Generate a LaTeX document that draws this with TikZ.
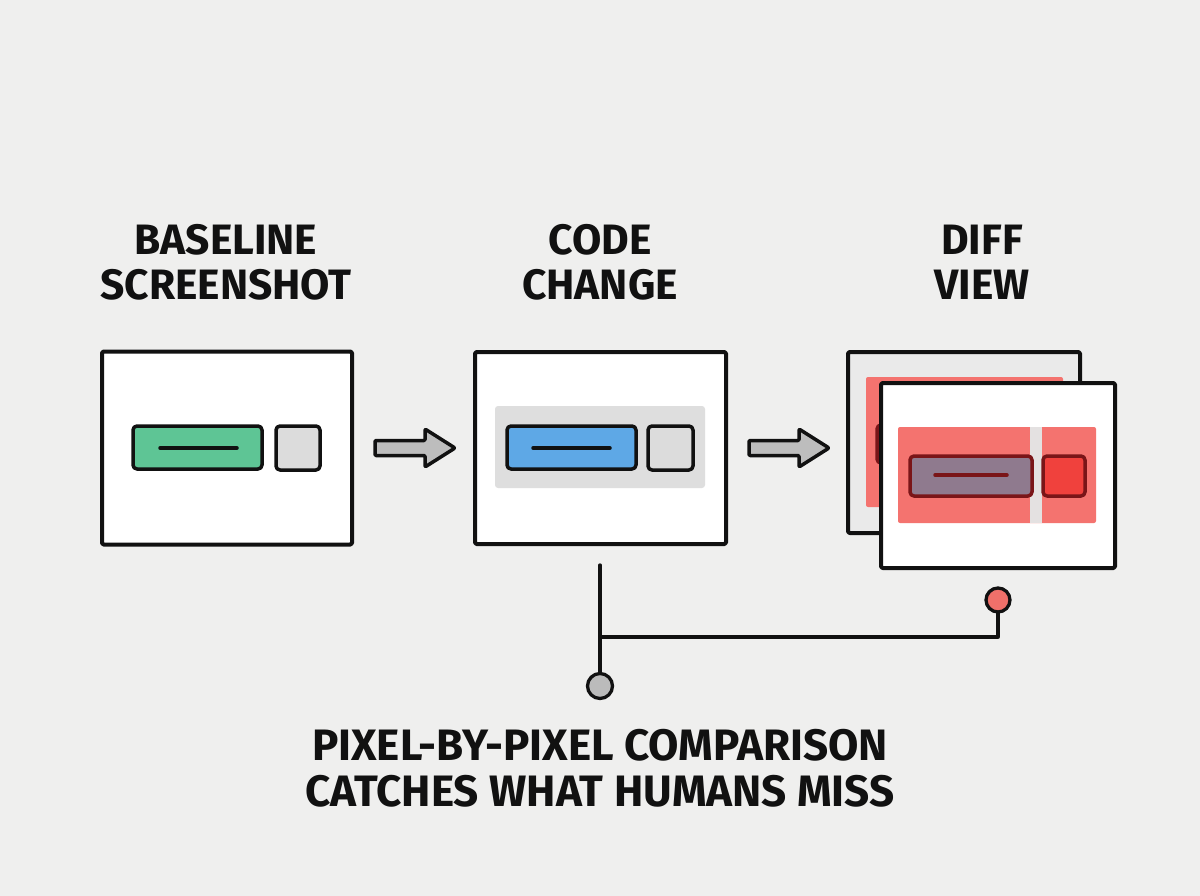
\documentclass[tikz,border=0pt]{standalone}
\usepackage{fontspec}
\setmainfont{Fira Sans}
\definecolor{bg}{HTML}{EFEFEE}
\definecolor{ink}{HTML}{111111}
\definecolor{grn}{HTML}{5EC595}
\definecolor{blu}{HTML}{5EA8E6}
\definecolor{lgray}{HTML}{DCDCDC}
\definecolor{panel}{HTML}{DEDEDE}
\definecolor{arrowgray}{HTML}{BDBDBD}
\definecolor{redpanel}{HTML}{F4736F}
\definecolor{purp}{HTML}{8F7A8E}
\definecolor{redsq}{HTML}{F0413D}
\definecolor{dred}{HTML}{7A1518}
\definecolor{reddot}{HTML}{F0706A}
\definecolor{graydot}{HTML}{BBBBBB}
\definecolor{backbox}{HTML}{EAEAEA}
\definecolor{stripe}{HTML}{E4E1E1}
\begin{document}
\begin{tikzpicture}[x=1pt,y=-1pt,line join=round,line cap=round,
  screen/.style={draw=ink,line width=4pt,fill=white,inner sep=0pt,rounded corners=1.5pt},
  bar/.style={draw=ink,line width=3.5pt,inner sep=0pt,rounded corners=4pt},
  barline/.style={draw=ink,line width=3.5pt},
  blockarrow/.style={draw=ink,line width=3.5pt,fill=arrowgray,rounded corners=1pt},
  wire/.style={draw=ink,line width=3.3pt},
  dot/.style={circle,draw=ink,line width=3.3pt,inner sep=0pt,minimum size=24pt},
  title/.style={font=\bfseries\fontsize{42.5}{45}\selectfont,align=center,text=ink,inner sep=0pt},
  caption/.style={font=\bfseries\fontsize{44}{46}\selectfont,align=center,text=ink,inner sep=0pt}]
\fill[bg] (0,0) rectangle (1200,896);
\useasboundingbox (0,0) rectangle (1200,896);

% titles
\node[title] (t1) at (226,262) {BASELINE\\SCREENSHOT};
\node[title] (t2) at (600,262) {CODE\\CHANGE};
\node[title] (t3) at (982,262) {DIFF\\VIEW};

% baseline screen
\node[screen,minimum width=250pt,minimum height=193pt] (b1) at (227,448) {};
\node[bar,fill=grn,minimum width=129pt,minimum height=43pt] (g1) at (197.5,447.5) {};
\draw[barline] (160,448) -- (237,448);
\node[bar,fill=lgray,minimum width=44pt,minimum height=44pt] (s1) at (298,448) {};

% code change screen
\node[screen,minimum width=251pt,minimum height=192pt] (b2) at (600.5,448) {};
\fill[panel,rounded corners=3pt] (495,406) rectangle (705,488);
\node[bar,fill=blu,minimum width=129pt,minimum height=43pt] (g2) at (571.5,447.5) {};
\draw[barline] (533,448) -- (610,448);
\node[bar,fill=lgray,minimum width=45pt,minimum height=44pt] (s2) at (670.5,448) {};

% diff view, back
\node[screen,fill=backbox,minimum width=232pt,minimum height=181pt] (b3b) at (964,442.5) {};
\fill[redpanel,rounded corners=2pt] (866,377) rectangle (1063,507);
\draw[draw=dred,line width=3.5pt,fill=purp,rounded corners=4pt] (877,425) rectangle (990,463);
% diff view, front
\node[screen,minimum width=234pt,minimum height=185pt] (b3) at (998,475.5) {};
\fill[redpanel,rounded corners=2pt] (898,427) rectangle (1096,523);
\fill[stripe] (1030,427) rectangle (1042,523);
\node[bar,draw=dred,fill=purp,minimum width=122pt,minimum height=40pt] (g3) at (971,476) {};
\draw[barline,draw=dred] (935,475) -- (1007,475);
\node[bar,draw=dred,fill=redsq,minimum width=42pt,minimum height=40pt] (s3) at (1064,476) {};

% block arrows
\draw[blockarrow,shift={(b1.east)}] (21,-7.5) -- (71,-7.5) -- (71,-19) -- (101,0) -- (71,19) -- (71,7.5) -- (21,7.5) -- cycle;
\draw[blockarrow,shift={(b2.east)}] (21,-7.5) -- (71,-7.5) -- (71,-19) -- (101,0) -- (71,19) -- (71,7.5) -- (21,7.5) -- cycle;

% connector
\coordinate (top) at (600,565);
\coordinate (j) at (600,637);
\node[dot,fill=graydot,minimum size=25pt] (gd) at (600,686) {};
\node[dot,fill=reddot] (rd) at (998,600) {};
\draw[wire] (top) -- (gd.north);
\draw[wire] (j) -| (rd.south);

% caption
\node[caption] (cap) at (600,768) {PIXEL-BY-PIXEL COMPARISON\\CATCHES WHAT HUMANS MISS};
\end{tikzpicture}
\end{document}
